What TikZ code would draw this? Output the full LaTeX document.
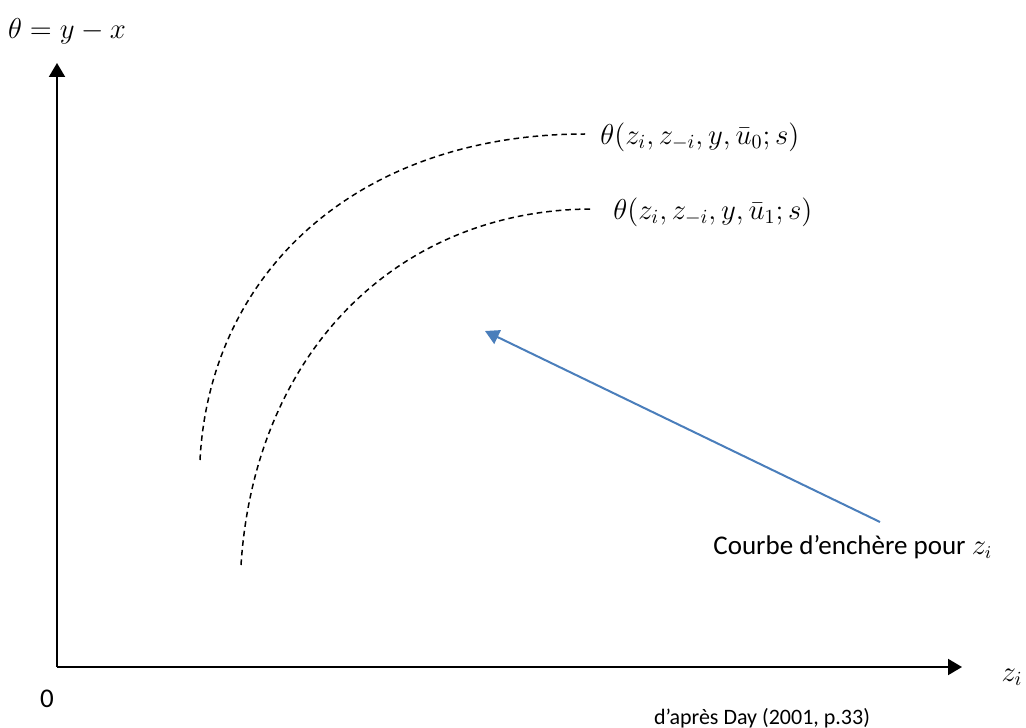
\documentclass[tikz,border=0pt]{standalone}
\usepackage[no-math]{fontspec}
\setmainfont{Carlito}
\usetikzlibrary{arrows.meta}
\definecolor{wordblue}{HTML}{4A7EBB}
\begin{document}
\begin{tikzpicture}[x=0.5pt,y=-0.5pt,
  axis/.style={line width=1pt,-{Triangle[length=7pt,width=8pt]}},
  bidcurve/.style={line width=0.75pt,dash pattern=on 2.8pt off 2pt},
  mlabel/.style={inner sep=0pt,font=\fontsize{13.6}{16}\selectfont},
  tlabel/.style={inner sep=0pt,font=\fontsize{13.5}{16}\selectfont},
  slabel/.style={inner sep=0pt,font=\fontsize{11}{13}\selectfont},
  pointer/.style={draw=wordblue,line width=1pt,-{Triangle[length=7pt,width=7.5pt]}}]
\useasboundingbox (0,0) rectangle (1026,727);
% axes
\coordinate (O) at (57,667);
\coordinate (ytip) at (57,63);
\coordinate (xtip) at (962,667);
\draw[axis] (O) -- (ytip);
\draw[axis] (O) -- (xtip);
\node[mlabel] (ylab) at (67,31) {$\theta = y - x$};
\node[mlabel] (xlab) at (1012,677) {$z_i$};
\node[tlabel] (zero) at (47,699) {0};
% bid curves
\coordinate (c0s) at (200,460);
\coordinate (c0e) at (585,134);
\coordinate (c1s) at (241,565);
\coordinate (c1e) at (593,209);
\draw[bidcurve] (c0s) .. controls (210,270) and (360,134) .. (c0e);
\draw[bidcurve] (c1s) .. controls (255,350) and (400,209) .. (c1e);
\node[mlabel,anchor=west] (l0) at (600,137) {$\theta(z_i, z_{-i}, y, \bar{u}_0; s)$};
\node[mlabel,anchor=west] (l1) at (613,212) {$\theta(z_i, z_{-i}, y, \bar{u}_1; s)$};
% pointer
\node[tlabel,anchor=west] (courbe) at (713,547) {Courbe d’enchère pour $z_i$};
\coordinate (ps) at (880,522);
\coordinate (pt) at (485,331);
\draw[pointer] (ps) -- (pt);
\node[slabel] (src) at (762,718) {d’après Day (2001, p.33)};
\end{tikzpicture}
\end{document}
